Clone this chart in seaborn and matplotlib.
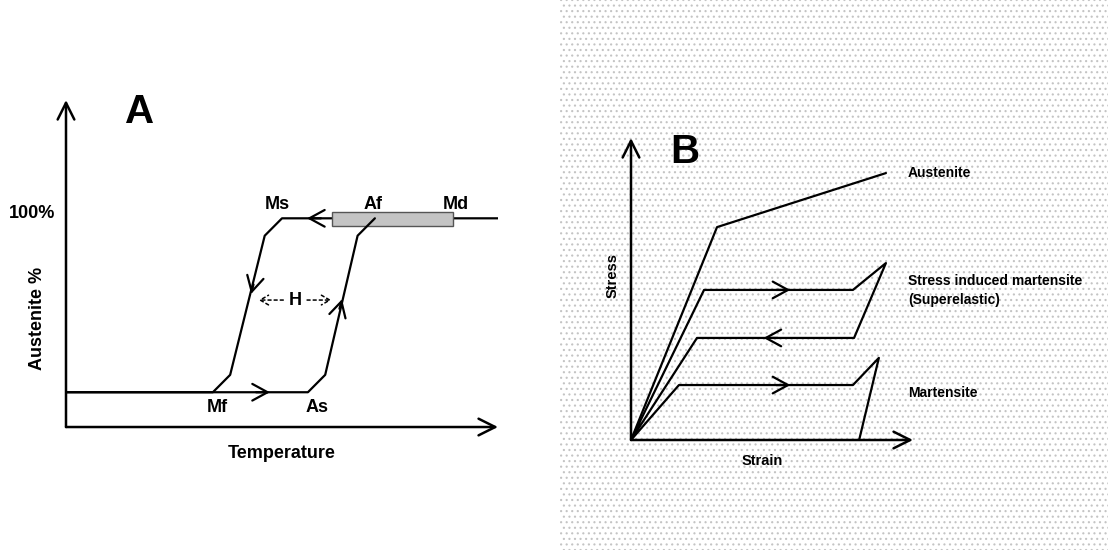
import matplotlib
matplotlib.use('Agg')
import matplotlib.pyplot as plt
import seaborn as sns
from matplotlib.patches import Rectangle

# Panel A: austenite fraction vs temperature (hysteresis loop)
cool_temp = [100, 50, 46, 38, 34, 0]
cool_aust = [100, 100, 90, 10, 0, 0]
heat_temp = [0, 56, 60, 67.5, 71.5]
heat_aust = [0, 0, 10, 90, 100]
band_temp = [61.6, 89.6]          # Af..Md shaded band
point_labels = ['Ms', 'Af', 'Md', 'Mf', 'As']
point_temp = [49, 71, 90.3, 35, 58]
point_aust = [108, 108, 108, -9, -9]

# Panel B: stress vs strain
aust_strain = [0, 30.5, 90.4]
aust_stress = [0, 70.5, 88.4]
super_strain = [0, 25.9, 78.7, 90.4, 79.1, 23.4, 0]
super_stress = [0, 49.7, 49.7, 58.6, 33.8, 33.8, 0]
mart_strain = [0, 17.0, 78.7, 87.9, 80.9]
mart_stress = [0, 18.2, 18.2, 27.2, 0]
curve_labels = ['Austenite', 'Stress induced martensite\n(Superelastic)', 'Martensite']
label_stress = [88.4, 49.5, 15.6]

sns.set_theme(style='white')
plt.rcParams['font.family'] = ['Liberation Sans', 'DejaVu Sans']
plt.rcParams['font.weight'] = 'bold'
plt.rcParams['text.color'] = 'black'
plt.rcParams['hatch.linewidth'] = 0.8

fig = plt.figure(figsize=(11.08, 5.5), dpi=100)
fig.patch.set_facecolor('white')

# dotted background behind panel B
bg = Rectangle((560 / 1108, 0), 548 / 1108, 1, transform=fig.transFigure,
               facecolor='white', edgecolor='#c4c4c4', hatch='...', lw=0, zorder=-10)
fig.patches.append(bg)

LW = 1.6
K = 'black'


def chevron(ax, x, y, dx, dy, lw=LW):
    ax.annotate('', xy=(x + dx, y + dy), xytext=(x, y),
                arrowprops=dict(arrowstyle='->,head_length=1.1,head_width=0.6',
                                color=K, lw=lw, mutation_scale=10,
                                shrinkA=0, shrinkB=0),
                annotation_clip=False)


def axis_arrow(ax, x0, y0, x1, y1):
    ax.annotate('', xy=(x1, y1), xytext=(x0, y0),
                arrowprops=dict(arrowstyle='->,head_length=1.2,head_width=0.6',
                                color=K, lw=1.8, mutation_scale=10,
                                shrinkA=0, shrinkB=0),
                annotation_clip=False)


# ---------------- Panel A ----------------
axA = fig.add_axes([66 / 1108, 0.2236, 432 / 1108, 0.5945])
axA.set_xlim(0, 100)
axA.set_ylim(-20, 168)
axA.axis('off')
axA.patch.set_alpha(0)

axA.add_patch(Rectangle((band_temp[0], 95.4), band_temp[1] - band_temp[0], 8,
                        facecolor='#c4c4c4', edgecolor='#555555', lw=1.0, zorder=3))
sns.lineplot(x=cool_temp, y=cool_aust, sort=False, estimator=None, ax=axA,
             color=K, lw=LW, zorder=2)
sns.lineplot(x=heat_temp, y=heat_aust, sort=False, estimator=None, ax=axA,
             color=K, lw=LW, zorder=4)

axis_arrow(axA, 0, -20, 0, 168)
axis_arrow(axA, 0, -20, 100, -20)

chevron(axA, 44, 0, 3.2, 0)
chevron(axA, 59, 100, -3.2, 0)
chevron(axA, 43.4, 62, -0.55, -5.5)
chevron(axA, 63.3, 48, 0.6, 5.5)

# hysteresis width H
for x0, x1 in [(50.3, 44.6), (55.8, 61.4)]:
    axA.annotate('', xy=(x1, 53), xytext=(x0, 53),
                 arrowprops=dict(arrowstyle='->,head_length=0.6,head_width=0.35',
                                 color=K, lw=1.1, ls=(0, (2, 2)), mutation_scale=10,
                                 shrinkA=0, shrinkB=0))
axA.text(53, 53, 'H', ha='center', va='center', fontsize=13, fontweight='bold')

for lab, tx, ty in zip(point_labels, point_temp, point_aust):
    axA.text(tx, ty, lab, ha='center', va='center', fontsize=13, fontweight='bold')

axA.text(-2.6, 103, '100%', ha='right', va='center', fontsize=13, fontweight='bold')
axA.text(-6.7, 42.5, 'Austenite %', ha='center', va='center', rotation=90,
         fontsize=13, fontweight='bold')
axA.text(50, -35, 'Temperature', ha='center', va='center', fontsize=13,
         fontweight='bold')
axA.text(17.1, 161, 'A', ha='center', va='center', fontsize=29, fontweight='bold')

# ---------------- Panel B ----------------
axB = fig.add_axes([631 / 1108, 0.2, 282 / 1108, 0.549])
axB.set_xlim(0, 100)
axB.set_ylim(0, 100)
axB.axis('off')
axB.patch.set_alpha(0)

for xs, ys in [(aust_strain, aust_stress), (super_strain, super_stress),
               (mart_strain, mart_stress)]:
    sns.lineplot(x=xs, y=ys, sort=False, estimator=None, ax=axB, color=K, lw=LW)

axis_arrow(axB, 0, 0, 0, 100)
axis_arrow(axB, 0, 0, 100, 0)

chevron(axB, 51.5, super_stress[1], 5, 0)
chevron(axB, 52, super_stress[4], -5, 0)
chevron(axB, 51.5, mart_stress[1], 5, 0)

for lab, ys in zip(curve_labels, label_stress):
    axB.text(98.2, ys, lab, ha='left', va='center', fontsize=10,
             fontweight='bold', linespacing=1.45)

axB.text(-6.7, 54.6, 'Stress', ha='center', va='center', rotation=90,
         fontsize=10.5, fontweight='bold')
axB.text(46.5, -7, 'Strain', ha='center', va='center', fontsize=10.5,
         fontweight='bold')
axB.text(19.1, 95.4, 'B', ha='center', va='center', fontsize=29, fontweight='bold')

fig.savefig('out.png', dpi=100)
